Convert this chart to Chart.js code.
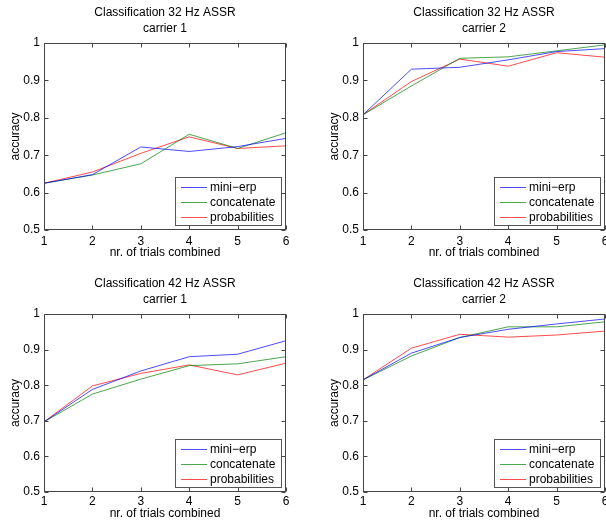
<!DOCTYPE html>
<html>
<head>
<meta charset="utf-8">
<script src="https://cdn.jsdelivr.net/npm/chart.js@4.4.1/dist/chart.umd.min.js"></script>
<style>
  html, body { margin: 0; padding: 0; background: #fff; overflow: hidden; }
  body { width: 606px; height: 521px; position: relative; }
  canvas { position: absolute; }
</style>
</head>
<body>
<canvas id="c1" width="303" height="260" style="left:0;top:0"></canvas>
<canvas id="c2" width="300" height="260" style="left:319px;top:0"></canvas>
<canvas id="c3" width="303" height="250" style="left:0;top:271px"></canvas>
<canvas id="c4" width="300" height="250" style="left:319px;top:271px"></canvas>
<script>
const trials = [1, 2, 3, 4, 5, 6];
const seriesNames = ['mini\u2212erp', 'concatenate', 'probabilities'];
const colors = ['rgba(0,0,255,0.7)', 'rgba(0,128,0,0.7)', 'rgba(255,0,0,0.7)'];

// 32 Hz ASSR, carrier 1
const miniErp32c1 = [0.625, 0.648, 0.722, 0.710, 0.723, 0.745];
const concat32c1  = [0.625, 0.647, 0.677, 0.756, 0.718, 0.760];
const prob32c1    = [0.625, 0.655, 0.705, 0.749, 0.718, 0.725];
// 32 Hz ASSR, carrier 2
const miniErp32c2 = [0.808, 0.930, 0.935, 0.955, 0.977, 0.985];
const concat32c2  = [0.808, 0.885, 0.959, 0.963, 0.979, 0.995];
const prob32c2    = [0.808, 0.897, 0.957, 0.938, 0.974, 0.962];
// 42 Hz ASSR, carrier 1
const miniErp42c1 = [0.697, 0.788, 0.840, 0.880, 0.887, 0.925];
const concat42c1  = [0.697, 0.775, 0.817, 0.855, 0.860, 0.880];
const prob42c1    = [0.697, 0.798, 0.833, 0.857, 0.829, 0.862];
// 42 Hz ASSR, carrier 2
const miniErp42c2 = [0.815, 0.890, 0.934, 0.957, 0.972, 0.986];
const concat42c2  = [0.815, 0.882, 0.934, 0.964, 0.964, 0.978];
const prob42c2    = [0.815, 0.904, 0.943, 0.935, 0.941, 0.952];

Chart.defaults.font.family = '"Liberation Sans", Arial, sans-serif';
Chart.defaults.font.size = 12;
Chart.defaults.color = '#000';

// matlab style box, inward ticks and legend inside the axes
const axesBox = {
  id: 'axesBox',
  afterLayout(chart) {
    // center the title over the plot area, not over the canvas
    if (chart.titleBlock) {
      chart.titleBlock.left = chart.chartArea.left;
      chart.titleBlock.right = chart.chartArea.right;
    }
  },
  afterDraw(chart) {
    const {ctx, chartArea: a, scales: {x, y}} = chart;
    const L = Math.round(a.left) + 0.5, R = Math.round(a.right) - 0.5;
    const T = Math.round(a.top) + 0.5, B = Math.round(a.bottom) - 0.5;
    ctx.save();
    ctx.lineWidth = 1;
    ctx.strokeStyle = '#444';
    ctx.strokeRect(L, T, R - L, B - T);
    ctx.beginPath();
    x.ticks.forEach((t, i) => {
      const px = Math.round(x.getPixelForTick(i)) + 0.5;
      ctx.moveTo(px, B); ctx.lineTo(px, B - 4);
      ctx.moveTo(px, T); ctx.lineTo(px, T + 4);
    });
    y.ticks.forEach(t => {
      const py = Math.round(y.getPixelForValue(t.value)) + 0.5;
      ctx.moveTo(L, py); ctx.lineTo(L + 4, py);
      ctx.moveTo(R, py); ctx.lineTo(R - 4, py);
    });
    ctx.stroke();

    const bw = 106, bh = 48;
    const bx = Math.round(a.right) - 5 - bw, by = Math.round(a.bottom) - 5 - bh;
    ctx.fillStyle = '#fff';
    ctx.fillRect(bx, by, bw, bh);
    ctx.strokeStyle = '#555';
    ctx.strokeRect(bx + 0.5, by + 0.5, bw, bh);
    ctx.font = '12px "Liberation Sans", Arial, sans-serif';
    ctx.textBaseline = 'middle';
    chart.data.datasets.forEach((ds, i) => {
      const ly = by + 10 + i * 15 + 0.5;
      ctx.strokeStyle = ds.borderColor;
      ctx.beginPath(); ctx.moveTo(bx + 6, ly); ctx.lineTo(bx + 32, ly); ctx.stroke();
      ctx.fillStyle = '#000';
      ctx.fillText(ds.label, bx + 35, ly);
    });
    ctx.restore();
  }
};

function makeChart(id, title, series, padRight, xHeight, tickPad) {
  return new Chart(document.getElementById(id), {
    type: 'line',
    data: {
      labels: trials,
      datasets: series.map((d, i) => ({
        label: seriesNames[i],
        data: d,
        borderColor: colors[i],
        borderWidth: 1,
        pointRadius: 0,
        tension: 0,
        fill: false
      }))
    },
    options: {
      responsive: false,
      animation: false,
      layout: { padding: { right: padRight } },
      plugins: {
        legend: { display: false },
        tooltip: { enabled: false },
        title: {
          display: true,
          text: title,
          color: '#000',
          font: { size: 12, weight: 'normal', lineHeight: 1.3 },
          padding: { top: 5, bottom: 6.8 }
        }
      },
      scales: {
        x: {
          grid: { display: false, drawTicks: false },
          border: { display: false },
          ticks: { padding: tickPad, maxRotation: 0, autoSkip: false },
          title: { display: true, text: 'nr. of trials combined', padding: 0 },
          afterFit(s) { s.height = xHeight; }
        },
        y: {
          min: 0.5,
          max: 1,
          grid: { display: false, drawTicks: false },
          border: { display: false },
          ticks: { stepSize: 0.1, padding: 4, callback: v => String(+v.toFixed(1)) },
          title: { display: true, text: 'accuracy', padding: { top: 8, bottom: 0 } },
          afterFit(s) { s.width = 44; }
        }
      }
    },
    plugins: [axesBox]
  });
}

makeChart('c1', ['Classification 32 Hz ASSR', 'carrier 1'], [miniErp32c1, concat32c1, prob32c1], 17, 30, 4);
makeChart('c2', ['Classification 32 Hz ASSR', 'carrier 2'], [miniErp32c2, concat32c2, prob32c2], 14, 30, 4);
makeChart('c3', ['Classification 42 Hz ASSR', 'carrier 1'], [miniErp42c1, concat42c1, prob42c1], 17, 29, 2.5);
makeChart('c4', ['Classification 42 Hz ASSR', 'carrier 2'], [miniErp42c2, concat42c2, prob42c2], 14, 29, 2.5);
</script>
</body>
</html>
